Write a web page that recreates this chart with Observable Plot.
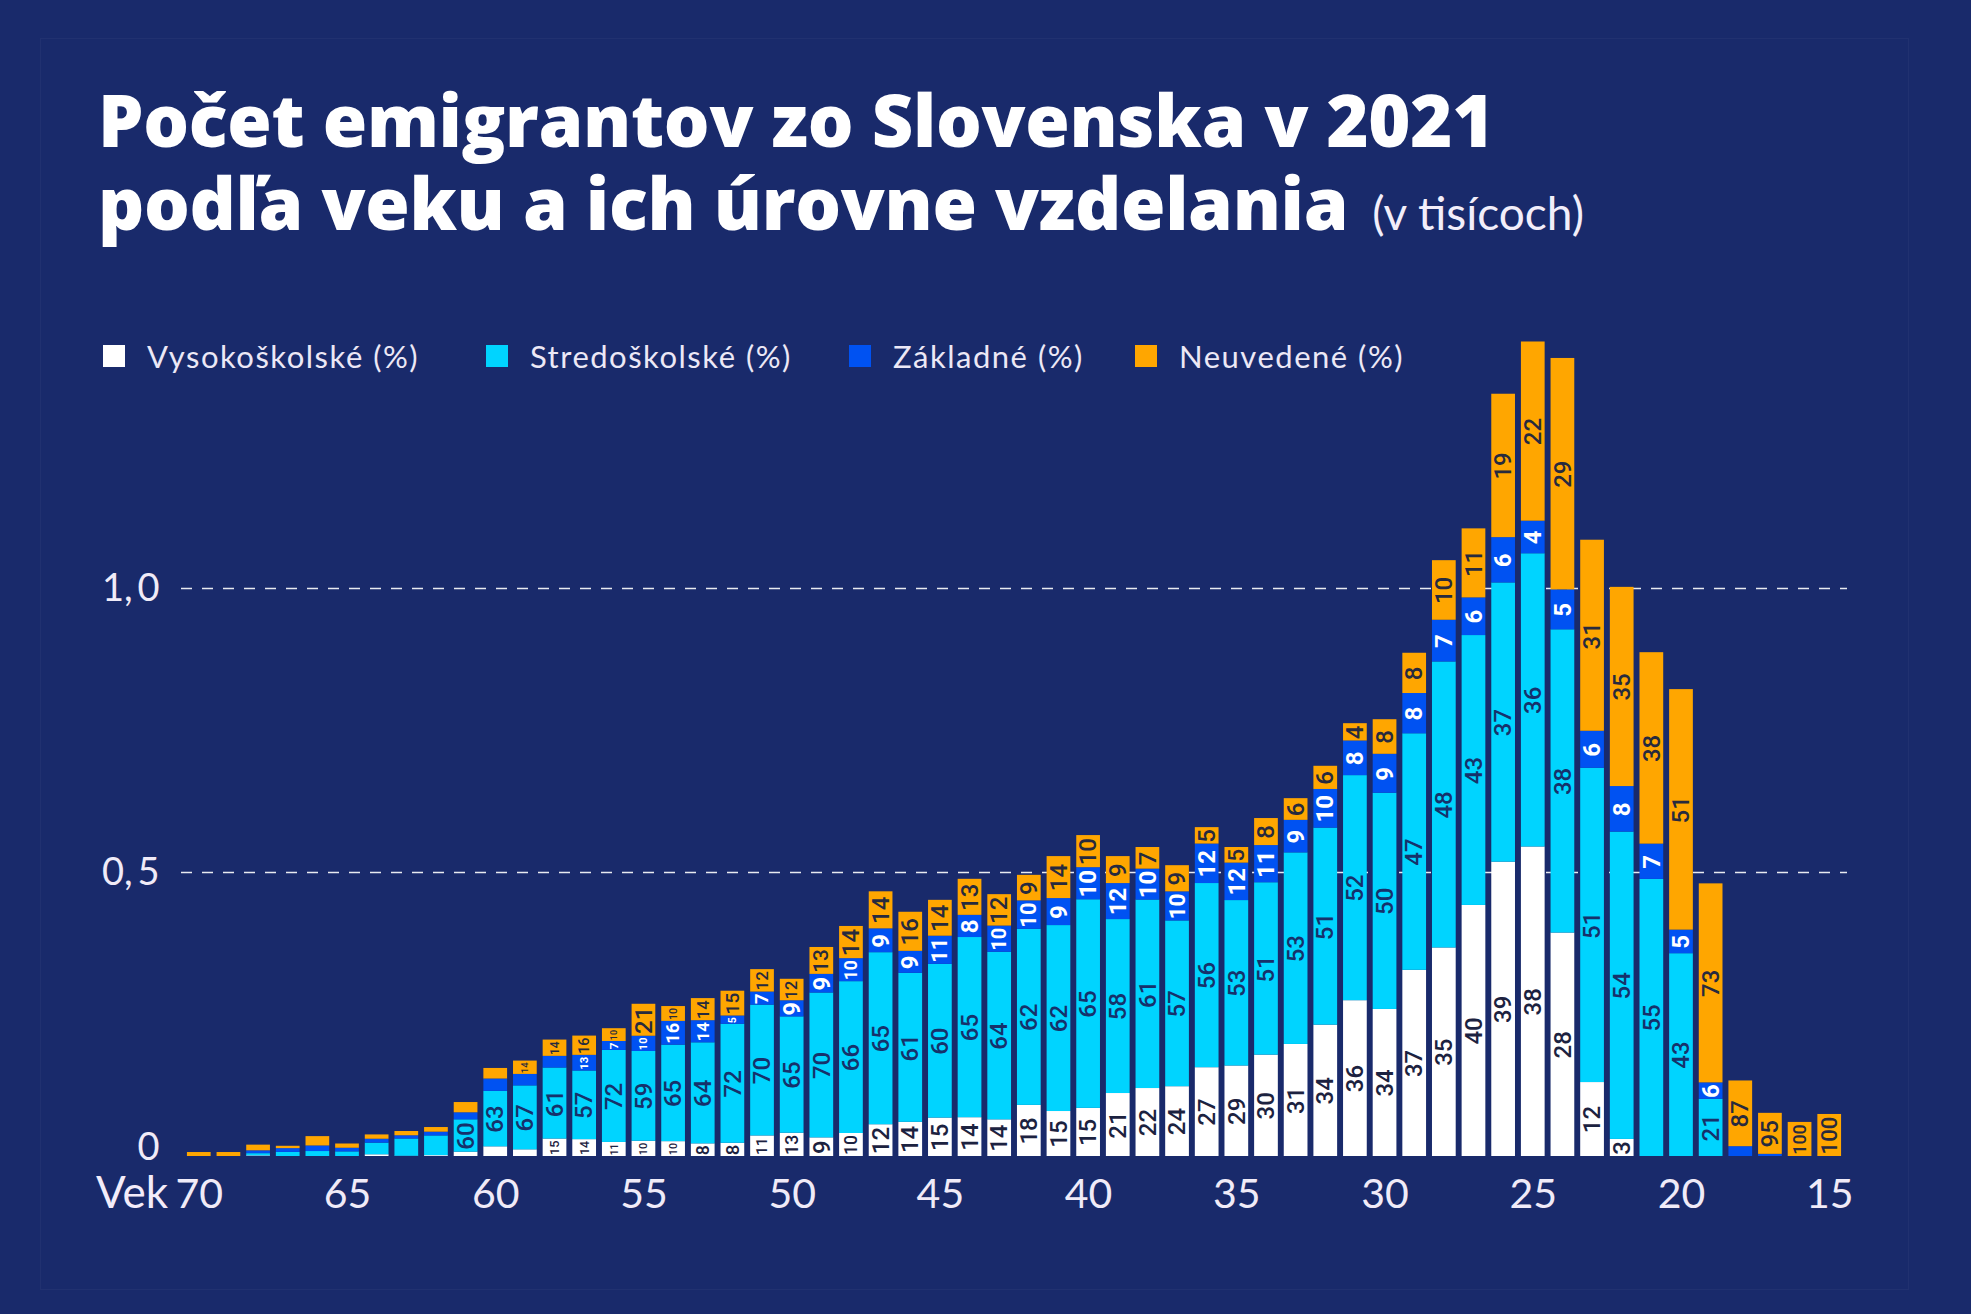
<!DOCTYPE html>
<html>
<head>
<meta charset="utf-8">
<script src="https://cdn.jsdelivr.net/npm/d3@7"></script>
<script src="https://cdn.jsdelivr.net/npm/@observablehq/plot@0.6"></script>
<style>
html, body { margin: 0; padding: 0; background: #192a6b; }
#wrap { position: relative; width: 1971px; height: 1314px; overflow: hidden; background: #192a6b; font-family: Lato, "Open Sans", sans-serif; }
#frame { position: absolute; left: 40px; top: 38px; width: 1869px; height: 1252px; border: 1px solid rgba(255,255,255,0.035); box-sizing: border-box; }
#chart { position: absolute; left: 0; top: 0; }
.tline { position: absolute; left: 98px; color: #ffffff; font-family: "Open Sans", Lato, sans-serif; font-weight: 800; font-size: 72px; line-height: 72px; white-space: nowrap; z-index: 2; letter-spacing: -0.3px; }
#t1 { top: 83px; }
#t2 { top: 166px; }
.tline .unit { font-family: Lato, sans-serif; font-weight: 400; font-size: 46px; margin-left: 24px; color: #f2eefa; letter-spacing: 0; }
#legend { position: absolute; left: 0; top: 336px; width: 1971px; height: 40px; color: #ece8f6; font-size: 31px; white-space: nowrap; z-index: 2; }
.item { position: absolute; top: 0; display: flex; align-items: center; height: 40px; letter-spacing: 1.5px; }
.sw { width: 22px; height: 22px; margin-right: 22px; }
#vek { position: absolute; left: 96px; top: 1166px; color: #f3ecfa; font-size: 44px; line-height: 50px; z-index: 2; }
</style>
</head>
<body>
<div id="wrap">
  <div id="frame"></div>
  <div id="chart"></div>
  <div class="tline" id="t1">Počet emigrantov zo Slovenska v 2021</div>
  <div class="tline" id="t2">podľa veku a ich úrovne vzdelania<span class="unit">(v tisícoch)</span></div>
  <div id="legend"></div>
  <div id="vek">Vek</div>
</div>
<script>
// Ages (left to right)
const ages = [70,69,68,67,66,65,64,63,62,61,60,59,58,57,56,55,54,53,52,51,50,49,48,47,46,45,44,43,42,41,40,39,38,37,36,35,34,33,32,31,30,29,28,27,26,25,24,23,22,21,20,19,18,17,16,15];

// Total emigrants per age (thousands)
const totals = [0.007,0.007,0.020,0.018,0.035,0.022,0.038,0.044,0.051,0.095,0.155,0.168,0.205,0.212,0.225,0.268,0.264,0.278,0.291,0.329,0.312,0.368,0.405,0.466,0.430,0.451,0.488,0.461,0.495,0.528,0.565,0.528,0.544,0.512,0.579,0.544,0.595,0.630,0.687,0.762,0.769,0.886,1.049,1.105,1.342,1.434,1.405,1.085,1.002,0.887,0.822,0.480,0.133,0.076,0.060,0.074];

// Shares by education level (%)
const pctUniversity = [0,0,5,0,0,0,8,1,3,8,11,7,15,14,11,10,10,8,8,11,13,9,10,12,14,15,14,14,18,15,15,21,22,24,27,29,30,31,34,36,34,37,35,40,39,38,28,12,3,0,0,0,0,0,0,0];
const pctSecondary  = [0,0,20,40,25,37,54,69,68,60,63,67,61,57,72,59,65,64,72,70,65,70,66,65,61,60,65,64,62,62,65,58,61,57,56,53,51,53,51,52,50,47,48,43,37,36,38,51,54,55,43,21,0,0,0,0];
const pctBasic      = [0,0,25,37,28,29,18,13,13,13,14,12,10,13,7,10,16,14,5,7,9,9,10,9,9,11,8,10,10,9,10,12,10,10,12,12,11,9,10,8,9,8,7,6,6,4,5,6,8,7,5,6,13,5,0,0];
const pctUnknown    = [100,100,50,23,47,34,20,17,16,19,12,14,14,16,10,21,10,14,15,12,12,13,14,14,16,14,13,12,9,14,10,9,7,9,5,5,8,6,6,4,8,8,10,11,19,22,29,31,35,38,51,73,87,95,100,100];

const seriesNames  = ["Vysokoškolské (%)", "Stredoškolské (%)", "Základné (%)", "Neuvedené (%)"];
const seriesColors = ["#ffffff", "#00d4ff", "#0052f2", "#ffa600"];
const labelColors  = ["#1c2240", "#16316b", "#ffffff", "#272a3e"];
const yTicks = [0.5, 1];
const xTicks = [70, 65, 60, 55, 50, 45, 40, 35, 30, 25, 20, 15];

const W = 1971, H = 1314, mT = 304, mB = 158, mL = 181, mR = 124, yMax = 1.5;
const pxPerUnit = (H - mT - mB) / yMax;

const pcts = [pctUniversity, pctSecondary, pctBasic, pctUnknown];
const rows = [];
ages.forEach((age, i) => {
  const sum = pcts.reduce((s, a) => s + a[i], 0);
  pcts.forEach((arr, k) => {
    const value = totals[i] * arr[i] / sum;
    const h = value * pxPerUnit;
    const n = String(arr[i]).length;
    const fs = Math.min(24, (h - 2) / (0.6 * n));
    const show = age <= 61 && arr[i] > 0 && fs >= 8.8;
    rows.push({age, k, level: seriesNames[k], pct: arr[i], value, fs: Math.max(fs, 1), show});
  });
});

const labelFont = "Roboto, 'Liberation Sans', sans-serif";
const chart = Plot.plot({
  width: W, height: H,
  marginTop: mT, marginBottom: mB, marginLeft: mL, marginRight: mR,
  style: {background: "transparent", fontFamily: "Lato, sans-serif", color: "#f0ebf8"},
  x: {type: "band", domain: ages, padding: 0.2, label: null},
  y: {domain: [0, yMax], label: null},
  color: {type: "identity"},
  marks: [
    Plot.ruleY([0.5, 1], {stroke: "#ffffff", strokeOpacity: 0.9, strokeWidth: 1.5, strokeDasharray: "11,10"}),
    Plot.barY(rows, {x: "age", y: "value", z: "k", fill: d => seriesColors[d.k]}),
    Plot.text(rows, Plot.stackY({
      x: "age", y: "value", z: "k",
      text: d => (d.show && d.k !== 2) ? String(d.pct) : "",
      rotate: -90, fontSize: d => d.fs, fill: d => labelColors[d.k],
      fontFamily: labelFont, fontWeight: 500
    })),
    Plot.text(rows, Plot.stackY({
      x: "age", y: "value", z: "k",
      text: d => (d.show && d.k === 2) ? String(d.pct) : "",
      rotate: -90, fontSize: d => d.fs, fill: d => labelColors[d.k],
      fontFamily: labelFont, fontWeight: 700
    })),
    Plot.axisY({ticks: yTicks, tickSize: 0, tickPadding: 22, fontSize: 38, label: null,
      tickFormat: d => d3.format(".1f")(d).replace(".", ",\u2009")}),
    Plot.axisY({ticks: [0], tickSize: 0, tickPadding: 22, fontSize: 38, label: null, dy: -9,
      tickFormat: d => String(d)}),
    Plot.axisX({ticks: xTicks, tickSize: 0, tickPadding: 22, fontSize: 41, label: null, tickFormat: d => String(d)})
  ]
});
document.getElementById("chart").appendChild(chart);

const legendLeft = [103, 486, 849, 1135];
const legend = document.getElementById("legend");
seriesNames.forEach((name, k) => {
  const item = document.createElement("div");
  item.className = "item";
  item.style.left = legendLeft[k] + "px";
  const sw = document.createElement("div");
  sw.className = "sw";
  sw.style.background = seriesColors[k];
  const label = document.createElement("span");
  label.textContent = name;
  item.appendChild(sw);
  item.appendChild(label);
  legend.appendChild(item);
});
</script>
</body>
</html>
